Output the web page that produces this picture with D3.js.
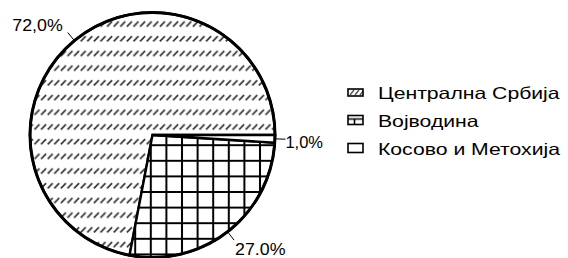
<!DOCTYPE html>
<html>
<head>
<meta charset="utf-8">
<script src="https://cdn.jsdelivr.net/npm/d3@7"></script>
<style>
  html, body { margin: 0; padding: 0; background: #fff; }
  svg { display: block; font-family: "Liberation Sans", Arial, sans-serif; }
</style>
</head>
<body>
<svg id="chart" width="568" height="258"></svg>
<script>
const categories = ["Централна Србија", "Војводина", "Косово и Метохија"];
const shares = [72, 27, 1];
const labels = ["72,0%", "27.0%", "1,0%"];
const fills = ["url(#hatch)", "url(#grid)", "#fff"];
const swatchFills = ["url(#hatchSmall)", "url(#gridSmall)", "#fff"];

const svg = d3.select("#chart");
const cx = 152.5, cy = 135, R = 122.5;

// patterns
const defs = svg.append("defs");
const hatch = defs.append("pattern")
    .attr("id", "hatch").attr("patternUnits", "userSpaceOnUse")
    .attr("width", 6.6).attr("height", 14.7)
    .attr("patternTransform", "translate(0,3)");
hatch.append("rect").attr("width", 6.6).attr("height", 14.7).attr("fill", "#fff");
hatch.append("line").attr("x1", 0.8).attr("y1", 6.2).attr("x2", 5.8).attr("y2", 1.2)
    .attr("stroke", "#333").attr("stroke-width", 1.7);

const grid = defs.append("pattern")
    .attr("id", "grid").attr("patternUnits", "userSpaceOnUse")
    .attr("width", 15.6).attr("height", 15.6)
    .attr("patternTransform", "translate(146.5,127.2)");
grid.append("rect").attr("width", 15.6).attr("height", 15.6).attr("fill", "#fff");
grid.append("path").attr("d", "M7.8,0V15.6M0,7.8H15.6")
    .attr("stroke", "#000").attr("stroke-width", 2).attr("fill", "none");

const hatchSmall = defs.append("pattern")
    .attr("id", "hatchSmall").attr("patternUnits", "objectBoundingBox")
    .attr("width", 1).attr("height", 1).attr("patternContentUnits", "userSpaceOnUse");
hatchSmall.append("rect").attr("width", 20).attr("height", 20).attr("fill", "#fff");
hatchSmall.selectAll("line").data([2, 7, 12]).join("line")
    .attr("x1", d => d).attr("y1", 6).attr("x2", d => d + 4).attr("y2", 1)
    .attr("stroke", "#555").attr("stroke-width", 1.4);

const gridSmall = defs.append("pattern")
    .attr("id", "gridSmall").attr("patternUnits", "objectBoundingBox")
    .attr("width", 1).attr("height", 1).attr("patternContentUnits", "userSpaceOnUse");
gridSmall.append("rect").attr("width", 20).attr("height", 20).attr("fill", "#fff");
gridSmall.append("path").attr("d", "M0,3.5H20M6.5,3.5V20")
    .attr("stroke", "#000").attr("stroke-width", 1.6);

// pie, counter-clockwise from 3 o'clock
const pie = d3.pie().sort(null).value(d => d)
    .startAngle(Math.PI / 2).endAngle(Math.PI / 2 - 2 * Math.PI);
const arcs = pie(shares);
const arc = d3.arc().innerRadius(0).outerRadius(R);

const g = svg.append("g").attr("transform", `translate(${cx},${cy})`);

g.selectAll("path.slice").data(arcs).join("path")
    .attr("class", "slice")
    .attr("d", arc)
    .attr("fill", (d, i) => fills[i])
    .attr("stroke", "#000").attr("stroke-width", 2.4)
    .attr("stroke-linejoin", "miter");

g.append("circle").attr("r", R)
    .attr("fill", "none").attr("stroke", "#000").attr("stroke-width", 3);

// leader lines and labels
const pt = (a, r) => [r * Math.sin(a), -r * Math.cos(a)];
const labelOffsets = [
    { dx: -5, dy: -2, anchor: "end", sx: 1.08 },
    { dx: 1, dy: 15, anchor: "start", sx: 1.08 },
    { dx: 0, dy: 9, anchor: "start", sx: 1 }
];

arcs.forEach((d, i) => {
    const mid = (d.startAngle + d.endAngle) / 2;
    const p0 = pt(mid, R), p1 = pt(mid, R + 10.5);
    g.append("line")
        .attr("x1", p0[0]).attr("y1", p0[1])
        .attr("x2", p1[0]).attr("y2", p1[1])
        .attr("stroke", "#000").attr("stroke-width", 1);
    const o = labelOffsets[i];
    g.append("text")
        .attr("transform", `translate(${p1[0] + o.dx},${p1[1] + o.dy}) scale(${o.sx},1)`)
        .attr("text-anchor", o.anchor)
        .style("font-size", "16.5px")
        .text(labels[i]);
});

// legend
const legend = svg.append("g").attr("transform", "translate(348,98)");
const item = legend.selectAll("g").data(categories).join("g")
    .attr("transform", (d, i) => `translate(0,${i * 28})`);
item.append("rect")
    .attr("x", 0).attr("y", (d, i) => i === 0 ? -9 : -10.5)
    .attr("width", 15).attr("height", (d, i) => i === 0 ? 7 : 9)
    .attr("fill", (d, i) => swatchFills[i])
    .attr("stroke", "#000").attr("stroke-width", 1.6);
item.append("text")
    .attr("transform", "translate(30,1) scale(1.3,1)")
    .style("font-size", "16.3px")
    .text(d => d);
</script>
</body>
</html>
